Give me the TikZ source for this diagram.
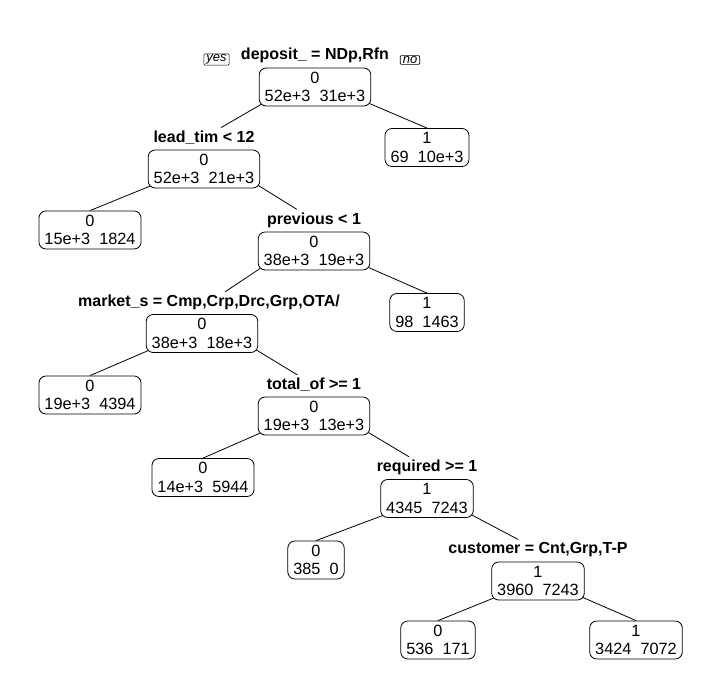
\documentclass[tikz,border=0pt]{standalone}
\usepackage{fontspec}
\setmainfont{Liberation Sans}
\usetikzlibrary{calc,backgrounds}
\begin{document}
\begin{tikzpicture}[x=1pt,y=-1pt,
  nbox/.style={draw, fill=white, rounded corners=7pt, align=center, inner xsep=5.5pt, inner ysep=1.5pt,
     minimum height=38pt, line width=0.8pt, font=\fontsize{16.3}{18.5}\selectfont},
  split/.style={fill=white, inner xsep=1pt, inner ysep=3pt, font=\fontsize{16}{18}\selectfont\bfseries},
  yn/.style={draw, rounded corners=1pt, line width=0.6pt, inner xsep=2.5pt, inner ysep=0.8pt,
     font=\fontsize{13}{13}\selectfont\itshape},
  br/.style={line width=0.8pt}]
\useasboundingbox (0,0) rectangle (726,700);
% internal nodes
\node[nbox] (root) at (315,87) {0\\52e+3\ \ 31e+3};
\node[split] (lroot) at (315,55) {deposit\_ = NDp,Rfn};
\node[yn] (yes) at (216.5,59.5) {yes};
\node[yn] (no) at (410,60) {no};
\node[nbox] (lead) at (204,169) {0\\52e+3\ \ 21e+3};
\node[split] (llead) at (204,137.5) {lead\_tim < 12};
\node[nbox] (prev) at (314,251) {0\\38e+3\ \ 19e+3};
\node[split] (lprev) at (314,220) {previous < 1};
\node[nbox] (mkt) at (202,333.5) {0\\38e+3\ \ 18e+3};
\node[split] (lmkt) at (209,302.5) {market\_s = Cmp,Crp,Drc,Grp,OTA/};
\node[nbox] (tot) at (314,416) {0\\19e+3\ \ 13e+3};
\node[split] (ltot) at (314,385) {total\_of >= 1};
\node[nbox] (req) at (427,498.5) {1\\4345\ \ 7243};
\node[split] (lreq) at (427,467.5) {required >= 1};
\node[nbox] (cus) at (538,581) {1\\3960\ \ 7243};
\node[split] (lcus) at (538,550) {customer = Cnt,Grp,T-P};
% leaves
\node[nbox] (lfB) at (427,147.5) {1\\69\ \ 10e+3};
\node[nbox] (lfA) at (90,230) {0\\15e+3\ \ 1824};
\node[nbox] (lfC) at (427,312.5) {1\\98\ \ 1463};
\node[nbox] (lfD) at (90,395) {0\\19e+3\ \ 4394};
\node[nbox] (lfE) at (203,477.5) {0\\14e+3\ \ 5944};
\node[nbox] (lfF) at (316,560) {0\\385\ \ 0};
\node[nbox] (lfG) at (438,640) {0\\536\ \ 171};
\node[nbox] (lfH) at (636,640) {1\\3424\ \ 7072};
\begin{scope}[on background layer]
\draw[br] ($(root.south west)+(4,-3)$) -- (llead);
\draw[br] ($(root.south east)+(-2,-3)$) -- (lfB.north);
\draw[br] ($(lead.south west)+(4,-3)$) -- (lfA.north);
\draw[br] ($(lead.south east)+(-2,-3)$) -- (lprev);
\draw[br] ($(prev.south west)+(4,-3)$) -- (lmkt);
\draw[br] ($(prev.south east)+(-2,-3)$) -- (lfC.north);
\draw[br] ($(mkt.south west)+(4,-3)$) -- (lfD.north);
\draw[br] ($(mkt.south east)+(-2,-3)$) -- (ltot);
\draw[br] ($(tot.south west)+(4,-3)$) -- (lfE.north);
\draw[br] ($(tot.south east)+(-2,-3)$) -- (lreq);
\draw[br] ($(req.south west)+(4,-3)$) -- (lfF.north);
\draw[br] ($(req.south east)+(-2,-3)$) -- (lcus);
\draw[br] ($(cus.south west)+(4,-3)$) -- (lfG.north);
\draw[br] ($(cus.south east)+(-2,-3)$) -- (lfH.north);
\end{scope}
\end{tikzpicture}
\end{document}
